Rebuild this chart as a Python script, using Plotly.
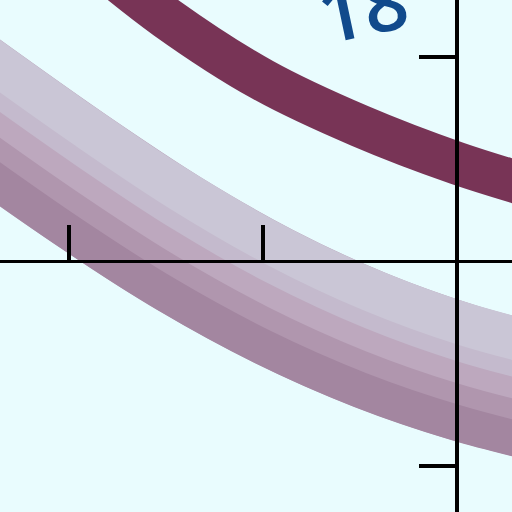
import numpy as np
import plotly.graph_objects as go

# ---- data (math coordinates) ----
dark_x = [-1.9, -1.5, -1.0, -0.5, 0.0, 0.4]
dark_y = [1.49, 1.19, 0.885, 0.66, 0.478, 0.36]

light_x = [-2.6, -2.0, -1.5, -1.0, -0.5, 0.0, 0.5]
light_y = [0.84, 0.437, 0.124, -0.146, -0.366, -0.536, -0.661]

x_ticks = [-2, -1]
y_ticks = [-1, 1]
label_text = "18"

# ---- layout constants ----
W, H = 512, 512
XR = [-2.3557, 0.2835]
YR = [-1.2274, 1.2763]
sx = W / (XR[1] - XR[0])
sy = H / (YR[1] - YR[0])

fig = go.Figure()

# light tube: stripes offset perpendicular to the curve (pixel offsets)
lx = np.array(light_x)
ly = np.array(light_y)
slope = np.gradient(ly * sy, lx * sx)
cos_t = 1.0 / np.sqrt(1.0 + slope ** 2)

stripes = [
    (0, 136, "rgb(184,162,184)"),
    (-42, 52, "rgb(202,198,214)"),
    (-16, 18, "rgb(196,186,205)"),
    (2, 22, "rgb(189,168,190)"),
    (24, 24, "rgb(176,150,174)"),
    (50, 36, "rgb(163,134,160)"),
]
for off, w, col in stripes:
    yy = ly - (off / cos_t) / sy
    fig.add_trace(go.Scatter(x=lx, y=yy, mode="lines",
                             line=dict(color=col, width=w, shape="spline"),
                             hoverinfo="skip", showlegend=False))

fig.add_trace(go.Scatter(x=dark_x, y=dark_y, mode="lines",
                         line=dict(color="#783456", width=43, shape="spline"),
                         hoverinfo="skip", showlegend=False))

fig.add_annotation(text=label_text, xref="paper", yref="paper",
                   x=362 / W, y=(H - 6) / H, xanchor="center", yanchor="middle",
                   showarrow=False, textangle=-12,
                   font=dict(family="Open Sans", size=78, color="#114a8c",
                             weight=600))

fig.update_layout(
    width=W, height=H, margin=dict(l=0, r=0, t=0, b=0),
    paper_bgcolor="#e9fcfe", plot_bgcolor="#e9fcfe",
    showlegend=False,
    xaxis=dict(range=XR, showgrid=False, zeroline=False, showticklabels=False,
               anchor="free", position=(H - 261) / H,
               showline=True, linecolor="black", linewidth=3,
               ticks="inside", tickvals=x_ticks, ticklen=35, tickwidth=4,
               tickcolor="black", fixedrange=True),
    yaxis=dict(range=YR, showgrid=False, zeroline=False, showticklabels=False,
               anchor="free", position=457 / W,
               showline=True, linecolor="black", linewidth=4,
               ticks="outside", tickvals=y_ticks, ticklen=36, tickwidth=4,
               tickcolor="black", fixedrange=True),
)

fig.write_html("out.html", config={"displayModeBar": False},
               post_script="document.body.style.margin='0';document.body.style.padding='0';")
